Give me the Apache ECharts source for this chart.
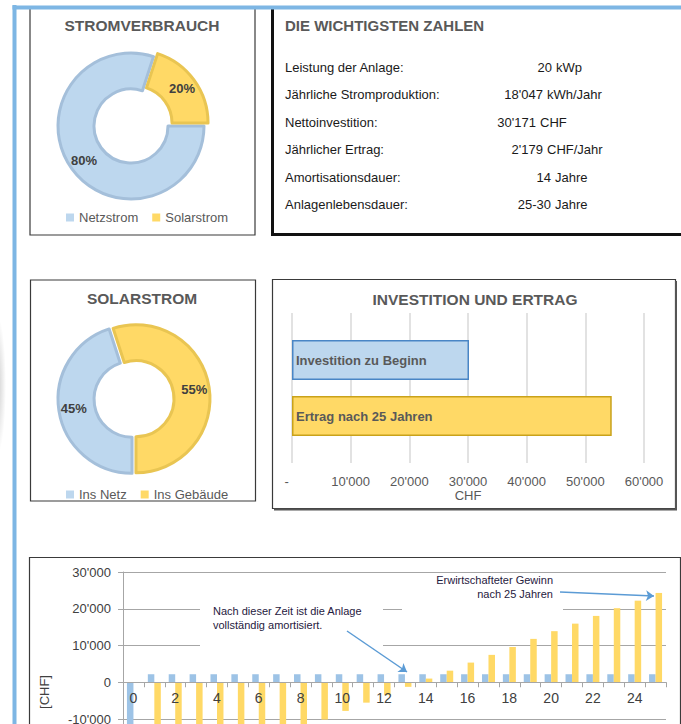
<!DOCTYPE html>
<html>
<head>
<meta charset="utf-8">
<script src="https://cdn.jsdelivr.net/npm/echarts@6/dist/echarts.min.js"></script>
<style>
  html, body { margin: 0; padding: 0; background: #fff; overflow: hidden; }
  #main { width: 681px; height: 724px; }
</style>
</head>
<body>
<div id="main"></div>
<script>
// Stromverbrauch (Anteile in %)
var verbrauchNames = ['Netzstrom', 'Solarstrom'];
var verbrauchValues = [80, 20];

// Solarstrom (Anteile in %)
var solarNames = ['Ins Netz', 'Ins Gebäude'];
var solarValues = [45, 55];

// die wichtigsten Zahlen
var kennLabels = ['Leistung der Anlage:', 'Jährliche Stromproduktion:', 'Nettoinvestition:',
  'Jährlicher Ertrag:', 'Amortisationsdauer:', 'Anlagenlebensdauer:'];
var kennZahlen = ['20', "18'047", "30'171", "2'179", '14', '25-30'];
var kennEinheiten = ['kWp', 'kWh/Jahr', 'CHF', 'CHF/Jahr', 'Jahre', 'Jahre'];

// Investition und Ertrag (CHF)
var investNames = ['Investition zu Beginn', 'Ertrag nach 25 Jahren'];
var investValues = [30171, 54500];

// Wirtschaftlichkeit über die Jahre (CHF)
var jahre = ['0', '1', '2', '3', '4', '5', '6', '7', '8', '9', '10', '11', '12',
  '13', '14', '15', '16', '17', '18', '19', '20', '21', '22', '23', '24', '25'];
var jahresErtrag = [-30171, 2180, 2180, 2180, 2180, 2180, 2180, 2180, 2180, 2180, 2180, 2180, 2180,
  2180, 2180, 2180, 2180, 2180, 2180, 2180, 2180, 2180, 2180, 2180, 2180, 2180];
var kumuliert = [null, -28000, -25800, -23650, -21450, -19300, -17100, -14950, -12750, -10150,
  -7800, -5550, -3500, -1250, 1000, 3150, 5350, 7450, 9600, 11800, 13900, 15950, 18050, 20150, 22200, 24300];

var FONT = 'Liberation Sans, Arial, sans-serif';
var GREY = '#595959';
var BLUE = '#bdd7ee', BLUE_DARK = '#a4bfda';
var GOLD = '#ffd966', GOLD_DARK = '#e9c552';

function chf(v) {
  if (v === 0) return '0';
  var s = String(Math.abs(v)).replace(/\B(?=(\d{3})+(?!\d))/g, "'");
  return (v < 0 ? '-' : '') + s;
}

var chart = echarts.init(document.getElementById('main'), null, { renderer: 'svg' });

var graphics = [];

// seitlicher Schatten links
graphics.push({
  type: 'ellipse', shape: { cx: -3, cy: 385, rx: 9, ry: 70 }, z: -10,
  style: { fill: new echarts.graphic.RadialGradient(0.5, 0.5, 0.5, [
    { offset: 0, color: 'rgba(0,0,0,0.2)' }, { offset: 1, color: 'rgba(0,0,0,0)' }]) }
});

// Boxen
function box(x, y, w, h, lw) {
  graphics.push({ type: 'rect', shape: { x: x, y: y, width: w, height: h }, z: -5,
    style: { fill: 'none', stroke: '#3a3a3a', lineWidth: lw || 1.2 } });
}
box(30, 8, 225, 227);
box(30.5, 280, 225, 221);
box(272.5, 279.5, 403, 229);
box(29.5, 557.5, 651, 300);
// Schatten rechts/unten
graphics.push({ type: 'polyline', shape: { points: [[676, 281], [676, 509.5], [274, 509.5]] }, z: -5,
  style: { fill: 'none', stroke: '#555', lineWidth: 2 } });
// Zahlen-Box (dicker Rand links/unten)
graphics.push({ type: 'polyline', shape: { points: [[272.5, 8], [272.5, 234.5], [690, 234.5]] }, z: -5,
  style: { fill: 'none', stroke: '#111', lineWidth: 3 } });

// blauer Rahmen
graphics.push({ type: 'line', shape: { x1: 14.5, y1: 5, x2: 14.5, y2: 724 }, z: 20,
  style: { stroke: '#7db6e4', lineWidth: 4 } });
graphics.push({ type: 'line', shape: { x1: 12.5, y1: 7.5, x2: 681, y2: 7.5 }, z: 20,
  style: { stroke: '#7db6e4', lineWidth: 4 } });

// Titel
function titel(text, x, y) {
  graphics.push({ type: 'text', x: x, y: y, style: { text: text, fill: GREY,
    font: 'bold 15.5px ' + FONT, textAlign: 'center', textVerticalAlign: 'middle' } });
}
titel('STROMVERBRAUCH', 142, 25);
titel('SOLARSTROM', 142, 298);
titel('INVESTITION UND ERTRAG', 475, 299);
graphics.push({ type: 'text', x: 285, y: 25, style: { text: 'DIE WICHTIGSTEN ZAHLEN', fill: GREY,
  font: 'bold 15px ' + FONT, textAlign: 'left', textVerticalAlign: 'middle' } });

// Tabelle
var zahlRechts = [552, 543, 536, 543, 551, 551];
kennLabels.forEach(function (l, i) {
  var y = 67 + i * 27.5;
  graphics.push({ type: 'text', x: 285, y: y, style: { text: l, fill: '#1a1a1a',
    font: '13px ' + FONT, textAlign: 'left', textVerticalAlign: 'middle' } });
  graphics.push({ type: 'text', x: zahlRechts[i], y: y, style: { text: kennZahlen[i], fill: '#1a1a1a',
    font: '13px ' + FONT, textAlign: 'right', textVerticalAlign: 'middle' } });
  graphics.push({ type: 'text', x: zahlRechts[i] + 4, y: y, style: { text: kennEinheiten[i], fill: '#1a1a1a',
    font: '13px ' + FONT, textAlign: 'left', textVerticalAlign: 'middle' } });
});

// Achsentitel unten
graphics.push({ type: 'text', x: 44, y: 692, rotation: Math.PI / 2, style: { text: '[CHF]', fill: '#404040',
  font: '13px ' + FONT, textAlign: 'center', textVerticalAlign: 'middle' } });

// Anmerkungen
graphics.push({ type: 'rect', shape: { x: 200, y: 600, width: 183, height: 52 }, z: 5,
  style: { fill: '#fff' } });
graphics.push({ type: 'text', x: 213, y: 618, z: 6, style: { text: 'Nach dieser Zeit ist die Anlage\nvollständig amortisiert.',
  fill: '#1f2040', font: '11px ' + FONT, lineHeight: 13.5, textAlign: 'left', textVerticalAlign: 'middle' } });
graphics.push({ type: 'rect', shape: { x: 402, y: 578, width: 161, height: 36 }, z: 5,
  style: { fill: '#fff' } });
graphics.push({ type: 'text', x: 553, y: 587, z: 6, style: { text: 'Erwirtschafteter Gewinn\nnach 25 Jahren',
  fill: '#1f2040', font: '11px ' + FONT, lineHeight: 14, textAlign: 'right', textVerticalAlign: 'middle' } });

var legendText = { fontSize: 13, color: GREY, fontFamily: FONT };

var option = {
  animation: false,
  textStyle: { fontFamily: FONT },
  legend: [
    { data: [{ name: verbrauchNames[0], itemStyle: { color: BLUE, borderWidth: 0 } },
             { name: verbrauchNames[1], itemStyle: { color: GOLD, borderWidth: 0 } }],
      left: 61, top: 206, itemWidth: 8, itemHeight: 8, itemGap: 14, icon: 'rect',
      textStyle: legendText, selectedMode: false },
    { data: [{ name: solarNames[0], itemStyle: { color: BLUE, borderWidth: 0 } },
             { name: solarNames[1], itemStyle: { color: GOLD, borderWidth: 0 } }],
      left: 61, top: 483, itemWidth: 8, itemHeight: 8, itemGap: 14, icon: 'rect',
      textStyle: legendText, selectedMode: false }
  ],
  grid: [
    { left: 292, top: 313, width: 352, height: 150, outerBoundsMode: 'none' },
    // unterer Teil ragt über den Seitenrand hinaus
    { left: 123, top: 572, width: 543, height: 257.25, outerBoundsMode: 'none' }
  ],
  xAxis: [
    { gridIndex: 0, type: 'value', min: 0, max: 60000, interval: 10000,
      name: 'CHF', nameLocation: 'middle', nameGap: 23,
      nameTextStyle: { fontSize: 13, color: GREY, fontFamily: FONT },
      axisLine: { show: false }, axisTick: { show: false },
      splitLine: { lineStyle: { color: '#d9d9d9', width: 1.5 } },
      axisLabel: { fontSize: 13, color: GREY, margin: 12, formatter: function (v) { return v === 0 ? '-   ' : chf(v); } } },
    { gridIndex: 1, type: 'category', data: jahre, offset: -147, z: 5,
      axisLine: { onZero: false, lineStyle: { color: '#a6a6a6' } },
      axisTick: { show: true, interval: 0, length: 5, lineStyle: { color: '#a6a6a6' } },
      axisLabel: { interval: 1, fontSize: 14, color: '#404040', margin: 9 } }
  ],
  yAxis: [
    { gridIndex: 0, type: 'category', data: ['Ertrag'], show: false },
    { gridIndex: 1, type: 'value', min: -40000, max: 30000, interval: 10000,
      axisLine: { show: true, lineStyle: { color: '#a6a6a6' } },
      axisTick: { show: true, length: 5, lineStyle: { color: '#a6a6a6' } },
      splitLine: { lineStyle: { color: '#a6a6a6' } },
      axisLabel: { fontSize: 13, color: '#404040', margin: 12,
        formatter: function (v) { return v < -10000 ? '' : chf(v); } } }
  ],
  series: [
    { type: 'pie', name: 'Stromverbrauch', center: [131, 126], radius: [37, 73], startAngle: 0,
      clockwise: true, selectedMode: 'single', selectedOffset: 5, silent: true,
      label: { position: 'inside', formatter: '{c}%', fontSize: 13, fontWeight: 'bold', color: '#404040' },
      labelLine: { show: false },
      data: [
        { name: verbrauchNames[0], value: verbrauchValues[0], itemStyle: { color: BLUE, borderColor: BLUE_DARK, borderWidth: 3 } },
        { name: verbrauchNames[1], value: verbrauchValues[1], selected: true, itemStyle: { color: GOLD, borderColor: GOLD_DARK, borderWidth: 3 } }
      ] },
    { type: 'pie', name: 'Solarstrom', center: [134, 399], radius: [38, 74], startAngle: 270,
      clockwise: true, selectedMode: 'multiple', selectedOffset: 2, silent: true,
      label: { position: 'inside', formatter: '{c}%', fontSize: 13, fontWeight: 'bold', color: '#404040' },
      labelLine: { show: false },
      data: [
        { name: solarNames[0], value: solarValues[0], selected: true, itemStyle: { color: BLUE, borderColor: BLUE_DARK, borderWidth: 3 } },
        { name: solarNames[1], value: solarValues[1], selected: true, itemStyle: { color: GOLD, borderColor: GOLD_DARK, borderWidth: 3 } }
      ] },
    { type: 'bar', name: investNames[0], xAxisIndex: 0, yAxisIndex: 0, data: [investValues[0]],
      barWidth: 40, barGap: '40%',
      itemStyle: { color: BLUE, borderColor: '#4a86c5', borderWidth: 1.5 },
      label: { show: true, position: 'insideLeft', formatter: '{a}', fontSize: 13, fontWeight: 'bold', color: GREY, distance: 4 } },
    { type: 'bar', name: investNames[1], xAxisIndex: 0, yAxisIndex: 0, data: [investValues[1]],
      barWidth: 40,
      itemStyle: { color: GOLD, borderColor: '#c9a21a', borderWidth: 1.5 },
      label: { show: true, position: 'insideLeft', formatter: '{a}', fontSize: 13, fontWeight: 'bold', color: GREY, distance: 4 } },
    { type: 'bar', name: 'Jährlicher Ertrag', xAxisIndex: 1, yAxisIndex: 1, data: jahresErtrag,
      barWidth: 6.5, barGap: '0%', itemStyle: { color: '#9dc3e6' },
      markLine: { silent: true, symbol: ['none', 'arrow'], symbolSize: 8, label: { show: false },
        lineStyle: { color: '#5b9bd5', width: 1.5, type: 'solid' },
        data: [
          [{ x: 347, y: 631 }, { x: 407, y: 672 }],
          [{ x: 560, y: 592 }, { x: 654, y: 596 }]
        ] } },
    { type: 'bar', name: 'Kumulierter Ertrag', xAxisIndex: 1, yAxisIndex: 1, data: kumuliert,
      barWidth: 6.5, itemStyle: { color: '#ffd966' } }
  ],
  graphic: graphics
};

chart.setOption(option);
</script>
</body>
</html>
